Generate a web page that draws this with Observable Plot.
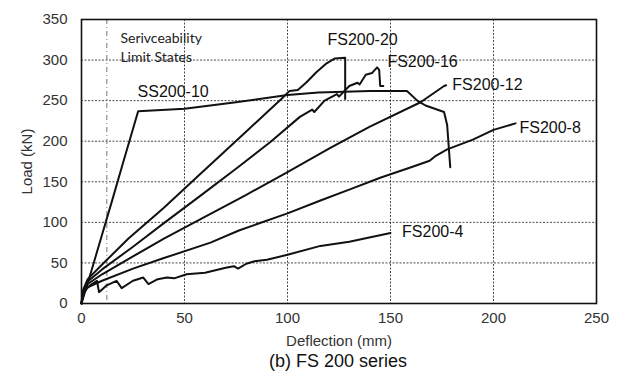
<!DOCTYPE html>
<html>
<head>
<meta charset="utf-8">
<script src="https://cdn.jsdelivr.net/npm/d3@7"></script>
<script src="https://cdn.jsdelivr.net/npm/@observablehq/plot@0.6"></script>
<style>
  html, body { margin: 0; padding: 0; background: #fff; }
  #chart { width: 622px; }
  #cap { width: 622px; box-sizing: border-box; padding-left: 54px; text-align: center;
         font: 18px "Liberation Sans", Arial, sans-serif; color: #111; line-height: 22px; }
</style>
</head>
<body>
<div id="chart"></div>
<div id="cap">(b) FS 200 series</div>
<script>
// Load–deflection curves (deflection mm, load kN)
const ss200_10 = [[0,0],[5,42],[10,85],[15,128],[20,172],[27.5,237],[50,240],[75,248],[100,257],[115,260],[140,262],[158,262],[163,250],[167,244],[176,236],[177.5,220],[179,168]];
const fs200_20 = [[0,0],[1,18],[3,30],[10,48],[22.8,80],[40,118],[57,158],[80,212],[97,252],[101,262],[105,263],[109,272],[114,285],[119,296],[123,302],[128,303],[128,252]];
const fs200_16 = [[0,0],[1,17],[3,27],[10,42],[25,70],[40,99],[57.8,133],[75,166],[91.7,199],[106,230],[112,239],[113,236],[118,250],[124,258],[125,255],[130,268],[134,272],[135,270],[138,282],[141,284],[143.5,291],[144.5,288],[145,268],[146.5,268]];
const fs200_12 = [[0,0],[1,16],[3,24],[10,36],[25,58],[40,80],[57.8,104],[80,134],[100,162],[121,192],[140,218],[164.6,248],[176,268],[177,269]];
const fs200_8  = [[0,0],[1,12],[3,20],[10,28],[25,43],[40,56],[62.6,75],[76.4,90],[100,111],[116,127],[130.6,141],[145,155],[160,168],[169,176],[172,182],[177.5,190],[190,202],[200,214],[210.7,222]];
const fs200_4  = [[0,0],[0.5,12],[1.5,16],[4,22],[7.5,28],[8.5,14],[12,22],[17,28],[19.5,19],[25,28],[30,32],[32.5,24],[37,30],[41.5,32],[45,31],[51,36],[60,38],[70,44],[74,46],[76,43],[80,49],[84,52],[90,54],[100,60],[116,71],[130,76],[150,87]];

const seriesNames = ["SS200-10","FS200-20","FS200-16","FS200-12","FS200-8","FS200-4"];
const seriesData  = [ss200_10, fs200_20, fs200_16, fs200_12, fs200_8, fs200_4];
// label anchor points (deflection, load)
const labelX = [27.2, 119.4, 148.5, 180, 212.6, 155.6];
const labelY = [261, 325, 297.6, 270, 216, 87.7];

const xTicks = [0,50,100,150,200,250];
const yTicks = [0,50,100,150,200,250,300,350];
const serviceLimit = [12.3];
const noteLines = ["Serivceability","Limit States"];
const noteX = [18.9, 18.9];
const noteY = [326.5, 303];

const rows = seriesData.flatMap((s, i) => s.map(([d, l]) => ({series: seriesNames[i], d, l})));
const labels = seriesNames.map((n, i) => ({n, x: labelX[i], y: labelY[i]}));
const notes = noteLines.map((t, i) => ({t, x: noteX[i], y: noteY[i]}));

const font = '"Liberation Sans", Arial, sans-serif';
const chart = Plot.plot({
  width: 622, height: 350,
  marginLeft: 81, marginRight: 26, marginTop: 19, marginBottom: 47,
  style: {fontFamily: font, fontSize: "15px", color: "#333", background: "#fff"},
  x: {domain: [0, 250]},
  y: {domain: [0, 350]},
  marks: [
    Plot.gridX(xTicks.slice(1, -1), {stroke: "#000", strokeOpacity: 0.7, strokeDasharray: "2,1.5", strokeWidth: 1}),
    Plot.gridY(yTicks.slice(1, -1), {stroke: "#000", strokeOpacity: 0.7, strokeDasharray: "2,1.5", strokeWidth: 1}),
    Plot.ruleX(serviceLimit, {stroke: "#777", strokeDasharray: "5,3,1,3", strokeWidth: 1}),
    Plot.axisX(xTicks, {tickSize: 0, tickPadding: 9, label: "Deflection (mm)", labelAnchor: "center", labelArrow: "none", labelOffset: 42, fontSize: 15}),
    Plot.axisY(yTicks, {tickSize: 0, tickPadding: 14, label: "Load (kN)", labelAnchor: "center", labelArrow: "none", labelOffset: 60, fontSize: 15}),
    Plot.line(rows, {x: "d", y: "l", z: "series", stroke: "#111", strokeWidth: 2, strokeLinejoin: "round"}),
    Plot.text(labels, {x: "x", y: "y", text: "n", textAnchor: "start", fontSize: 16, fill: "#111", fontFamily: font}),
    Plot.text(notes, {x: "x", y: "y", text: "t", textAnchor: "start", fontSize: 14, fill: "#222", fontFamily: "Lato"}),
    Plot.frame({stroke: "#111", strokeWidth: 1.6})
  ]
});
document.getElementById("chart").appendChild(chart);
</script>
</body>
</html>
